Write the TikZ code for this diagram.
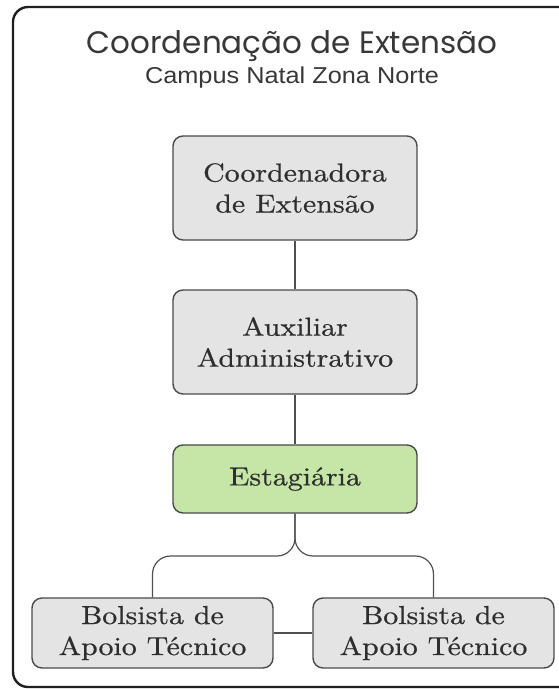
\documentclass[tikz,border=0pt]{standalone}
\usepackage{fontspec}
\setmainfont{lmroman10-regular.otf}[FakeStretch=1.15,FakeBold=0.6]
\newfontfamily\titlefont{Poppins}
\newfontfamily\subfont{Liberation Sans}[FakeStretch=1.1]
\definecolor{boxfill}{HTML}{E4E4E4}
\definecolor{boxline}{HTML}{4A4A4A}
\definecolor{greenfill}{HTML}{C6E6A8}
\definecolor{txt}{HTML}{2E2E2E}
\definecolor{ttl}{HTML}{383838}
\definecolor{conn}{HTML}{505050}
\tikzset{
  orgbox/.style={draw=boxline, fill=boxfill, line width=1.4pt, rounded corners=10pt,
    align=center, text=txt, inner sep=0pt, font=\fontsize{26}{31}\selectfont},
  midbox/.style={orgbox, minimum width=244pt, minimum height=104pt},
  lowbox/.style={orgbox, minimum width=241pt, minimum height=70pt},
  link/.style={draw=conn, line width=1.2pt},
}
\begin{document}
\begin{tikzpicture}[x=1pt,y=-1pt]
\useasboundingbox (0,0) rectangle (559,689);
\begin{scope}
\clip (0,0) rectangle (559,689);
\draw[line width=2.4pt, draw=black!88, rounded corners=15pt] (600,7) -- (13,7) -- (13,687) -- (600,687);
\end{scope}
\node[anchor=base, text=ttl, font=\titlefont\fontsize{31}{36}\selectfont] (title) at (292,53) {Coordenação de Extensão};
\node[anchor=base, text=ttl, font=\subfont\fontsize{23}{27}\selectfont] (sub) at (292,83) {Campus Natal Zona Norte};
\node[midbox] (coord) at (295,188) {Coordenadora\\de Extensão};
\node[midbox] (aux) at (295,342) {Auxiliar\\Administrativo};
\node[midbox, fill=greenfill, minimum height=68pt] (est) at (295,479) {Estagiária};
\node[lowbox] (lb) at (152.5,633) {Bolsista de\\Apoio Técnico};
\node[lowbox] (rb) at (433.5,633) {Bolsista de\\Apoio Técnico};
\draw[link] (coord.south) -- (aux.north);
\draw[link] (aux.south) -- (est.north);
\draw[link, rounded corners=18pt] (est.south) -- (est.south |- 0,556) -- (lb.north |- 0,556) -- (lb.north);
\draw[link, rounded corners=18pt] (est.south) -- (est.south |- 0,556) -- (rb.north |- 0,556) -- (rb.north);
\draw[link] (lb.east) -- (rb.west);
\end{tikzpicture}
\end{document}
